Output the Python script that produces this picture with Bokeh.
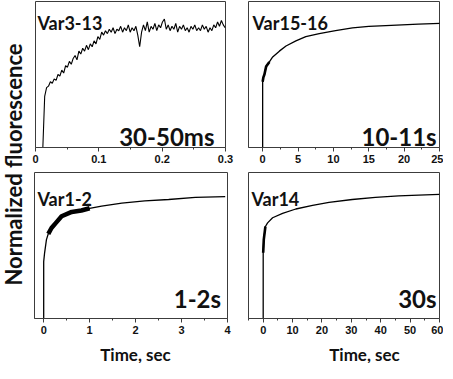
import numpy as np
from bokeh.plotting import figure
from bokeh.layouts import row, column
from bokeh.models import Range1d, FixedTicker, Label, BasicTickFormatter
from bokeh.embed import file_html
from bokeh.resources import INLINE

# ---------------- data (normalized fluorescence, fraction of panel height) -------------
# Var3-13 (ms trace, noisy)
tl_x_start = [0.0116]
tl_y_start = [0.0]
tl_y_noisy = [0.35, 0.41, 0.42, 0.45, 0.44, 0.47, 0.46, 0.50, 0.49, 0.53,
              0.51, 0.56, 0.55, 0.59, 0.57, 0.61, 0.63, 0.60, 0.66, 0.64,
              0.68, 0.66, 0.70, 0.67, 0.71, 0.69, 0.73, 0.71, 0.76, 0.74,
              0.79, 0.77, 0.80, 0.78, 0.81, 0.79, 0.82, 0.78, 0.81, 0.80,
              0.83, 0.79, 0.82, 0.80, 0.84, 0.79, 0.82, 0.80, 0.83, 0.77,
              0.69, 0.79, 0.84, 0.80, 0.86, 0.79, 0.83, 0.81, 0.85, 0.80,
              0.84, 0.82, 0.86, 0.88, 0.81, 0.84, 0.80, 0.83, 0.81, 0.85,
              0.79, 0.83, 0.81, 0.84, 0.80, 0.82, 0.79, 0.83, 0.81, 0.84,
              0.80, 0.82, 0.80, 0.84, 0.81, 0.83, 0.79, 0.82, 0.80, 0.84,
              0.82, 0.86, 0.83, 0.87, 0.84, 0.82]
tl_t_first, tl_t_last = 0.0145, 0.2995

# Var15-16
tr_x = [0.0, 0.0, 0.1, 0.25, 0.49, 0.95, 1.42, 2.36, 3.3, 4.7, 6.1, 8.0,
        10.3, 12.7, 15.0, 17.4, 19.7, 22.0, 25.3]
tr_y = [0.0, 0.45, 0.48, 0.50, 0.554, 0.586, 0.62, 0.66, 0.695, 0.73, 0.76,
        0.78, 0.80, 0.82, 0.83, 0.835, 0.84, 0.845, 0.85]

# Var1-2
bl_x = [0.0, 0.0, 0.02, 0.06, 0.1, 0.17, 0.28, 0.39, 0.61, 0.82, 1.0, 1.26,
        1.7, 2.2, 2.72, 3.3, 3.95]
bl_y = [0.0, 0.39, 0.45, 0.54, 0.58, 0.62, 0.66, 0.70, 0.73, 0.74, 0.755,
        0.77, 0.79, 0.805, 0.815, 0.83, 0.835]

# Var14
br_x = [0.0, 0.0, 0.2, 0.75, 1.5, 3.2, 6.6, 11.1, 16.8, 22.4, 30.3, 38.2,
        46.1, 52.9, 60.0]
br_y = [0.0, 0.45, 0.54, 0.63, 0.655, 0.69, 0.72, 0.75, 0.775, 0.795, 0.815,
        0.83, 0.84, 0.845, 0.85]

panel_names = ["Var3-13", "Var15-16", "Var1-2", "Var14"]
panel_times = ["30-50ms", "10-11s", "1-2s", "30s"]

tl_ticks = [0.0, 0.1, 0.2, 0.3]
tl_minor = [0.05, 0.15, 0.25]
tr_ticks = [0, 5, 10, 15, 20, 25]
tr_minor = [-2.5, 2.5, 7.5, 12.5, 17.5, 22.5]
bl_ticks = [0, 1, 2, 3, 4]
bl_minor = [0.5, 1.5, 2.5, 3.5]
br_ticks = [0, 10, 20, 30, 40, 50, 60]
br_minor = [-5, 5, 15, 25, 35, 45, 55]

x_label = "Time, sec"
y_label = "Normalized fluorescence"

FONT = "Lato"
TICK_FONT = "Liberation Sans"
FRAME = "#3c3c3c"


def panel(width, height, bl, br, bt, bb, xr, ticks, minor, precision=None):
    p = figure(width=width, height=height, x_range=Range1d(*xr),
               y_range=Range1d(0, 1), output_backend="svg",
               toolbar_location=None, y_axis_location=None,
               min_border_left=bl, min_border_right=br,
               min_border_top=bt, min_border_bottom=bb)
    p.xgrid.visible = False
    p.ygrid.visible = False
    p.outline_line_color = FRAME
    p.outline_line_width = 1
    p.background_fill_color = "white"
    p.border_fill_color = "white"
    ax = p.xaxis[0]
    ax.ticker = FixedTicker(ticks=ticks, minor_ticks=minor)
    if precision is not None:
        ax.formatter = BasicTickFormatter(precision=precision)
    ax.axis_line_color = FRAME
    ax.major_tick_line_color = FRAME
    ax.minor_tick_line_color = FRAME
    ax.major_tick_out = 4
    ax.major_tick_in = 0
    ax.minor_tick_out = 2
    ax.minor_tick_in = 0
    ax.major_label_standoff = 3
    ax.major_label_text_line_height = 1.0
    ax.major_label_text_font = TICK_FONT
    ax.major_label_text_font_style = "bold"
    ax.major_label_text_font_size = "11px"
    ax.major_label_text_color = "#111111"
    return p


def name_label(p, x, y, text):
    p.add_layout(Label(x=x, y=y, text=text, text_font=FONT,
                       text_font_style="bold", text_font_size="18px",
                       text_color="#111111", text_align="left",
                       text_baseline="alphabetic"))


def time_label(p, x, y, text):
    p.add_layout(Label(x=x, y=y, text=text, text_font=FONT,
                       text_font_style="bold", text_font_size="24px",
                       text_color="#111111", text_align="right",
                       text_baseline="bottom"))


LW = 1.3
BB = 25

# top-left
tl = panel(209, 172, 8, 11, 1, BB, (0.0, 0.3), tl_ticks, tl_minor, precision=1)
tl_x = tl_x_start + list(np.linspace(tl_t_first, tl_t_last, len(tl_y_noisy)))
tl_y = tl_y_start + tl_y_noisy
tl.line(tl_x, tl_y, line_color="black", line_width=1.1)
name_label(tl, 0.003, 0.852, panel_names[0])
time_label(tl, 0.2826, -0.025, panel_times[0])

# top-right
tr = panel(207, 172, 12, 4, 1, BB, (-2.0, 25.0), tr_ticks, tr_minor)
tr.line(tr_x, tr_y, line_color="black", line_width=LW)
tr.line(tr_x[1:6], tr_y[1:6], line_color="black", line_width=2.6)
name_label(tr, -1.44, 0.853, panel_names[1])
time_label(tr, 24.6, -0.025, panel_times[1])

# bottom-left
bl = panel(209, 171, 7, 9, 0, BB, (-0.2, 4.0), bl_ticks, bl_minor)
bl.line(bl_x, bl_y, line_color="black", line_width=LW)
bl.line(bl_x[4:11], bl_y[4:11], line_color="black", line_width=4.5)
name_label(bl, -0.135, 0.818, panel_names[2])
time_label(bl, 3.86, 0.04, panel_times[2])

# bottom-right
br = panel(207, 171, 12, 4, 0, BB, (-5.0, 60.0), br_ticks, br_minor)
br.line(br_x, br_y, line_color="black", line_width=LW)
br.line(br_x[1:4], br_y[1:4], line_color="black", line_width=2.6)
name_label(br, -4.0, 0.818, panel_names[3])
time_label(br, 59.0, 0.035, panel_times[3])

# footer row with the x-axis titles (pixel coordinates of the panel block)
ft = figure(width=416, height=20, x_range=Range1d(0, 416), y_range=Range1d(0, 20),
            x_axis_location=None, y_axis_location=None, min_border=0,
            outline_line_color=None, toolbar_location=None, output_backend="svg")
ft.xgrid.visible = False
ft.ygrid.visible = False
for cx in (108, 337):
    ft.add_layout(Label(x=cx, y=20, text=x_label, text_font=FONT,
                        text_font_style="bold", text_font_size="17px",
                        text_color="#111111", text_align="center",
                        text_baseline="top"))

# shared y label
yl = figure(width=27, height=363, x_range=Range1d(0, 27), y_range=Range1d(0, 363),
            x_axis_location=None, y_axis_location=None, min_border=0,
            outline_line_color=None, toolbar_location=None, output_backend="svg")
yl.xgrid.visible = False
yl.ygrid.visible = False
yl.add_layout(Label(x=13.4, y=199, text=y_label, angle=np.pi / 2, text_font=FONT,
                    text_font_style="bold", text_font_size="22px",
                    text_color="#111111", text_align="center",
                    text_baseline="middle"))

layout = row(yl, column(row(tl, tr), row(bl, br), ft))

open("out.html", "w").write(file_html(layout, INLINE))
